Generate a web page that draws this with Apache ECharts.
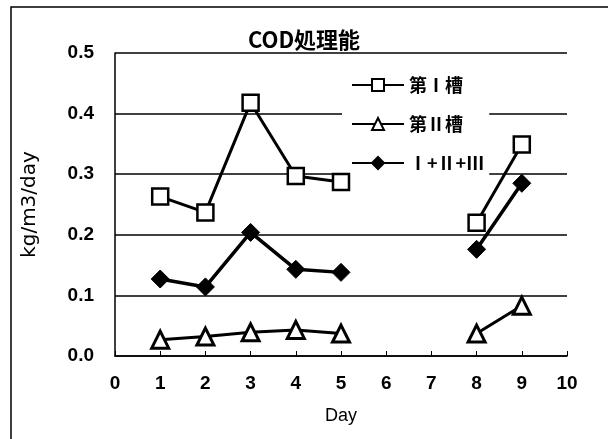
<!DOCTYPE html>
<html>
<head>
<meta charset="utf-8">
<script src="https://cdn.jsdelivr.net/npm/echarts@6/dist/echarts.min.js"></script>
<style>
  html, body { margin: 0; padding: 0; background: #fff; }
  #main { width: 608px; height: 439px; }
</style>
</head>
<body>
<div id="main"></div>
<script>
// 経過日数と各槽のCOD処理能 (6,7日目は欠測)
var days = [1, 2, 3, 4, 5, 6, 7, 8, 9];
var tank1 = [0.263, 0.237, 0.418, 0.297, 0.287, null, null, 0.220, 0.349];
var tank2 = [0.027, 0.032, 0.039, 0.043, 0.037, null, null, 0.037, 0.083];
var tankAll = [0.127, 0.114, 0.204, 0.143, 0.138, null, null, 0.176, 0.285];
var names = ['第Ⅰ槽', '第Ⅱ槽', 'Ⅰ+Ⅱ+Ⅲ'];

var chart = echarts.init(document.getElementById('main'));

function pairs(vals) {
  return days.map(function (d, i) {
    return [d, vals[i] == null ? '-' : vals[i]];
  });
}

var lineStyle = { color: '#000', width: 3 };

var option = {
  backgroundColor: '#fff',
  animation: false,
  title: {
    text: 'COD処理能',
    left: 'center',
    top: 24,
    textStyle: {
      fontFamily: '"Noto Sans CJK JP", sans-serif',
      fontSize: 22,
      fontWeight: 'bold',
      color: '#000'
    }
  },
  graphic: [{
    type: 'rect',
    shape: { x: 11, y: 7, width: 640, height: 480 },
    style: { fill: 'none', stroke: '#000', lineWidth: 1.5 },
    silent: true
  }],
  legend: {
    orient: 'vertical',
    left: 342,
    top: 68,
    padding: [8, 5, 30, 9],
    itemWidth: 52,
    itemHeight: 15,
    itemGap: 21,
    backgroundColor: '#fff',
    textStyle: {
      fontFamily: '"Noto Sans CJK JP", serif',
      fontSize: 18,
      fontWeight: 'bold',
      color: '#000'
    },
    data: names
  },
  grid: { left: 115, right: 41, top: 53, bottom: 83 },
  xAxis: {
    type: 'value',
    min: 0,
    max: 10,
    interval: 1,
    name: 'Day',
    nameLocation: 'middle',
    nameGap: 51,
    nameTextStyle: { fontFamily: '"Liberation Sans", Arial', fontSize: 18, color: '#000' },
    axisLine: { lineStyle: { color: '#000', width: 1.5 } },
    axisTick: { show: true, inside: true, length: 5, lineStyle: { color: '#000' } },
    splitLine: { show: false },
    axisLabel: {
      margin: 18,
      fontFamily: '"Liberation Sans", Arial',
      fontSize: 19,
      fontWeight: 'bold',
      color: '#000'
    }
  },
  yAxis: {
    type: 'value',
    min: 0,
    max: 0.5,
    interval: 0.1,
    name: 'kg/m3/day',
    nameLocation: 'middle',
    nameGap: 75,
    nameRotate: 90,
    nameTextStyle: { fontFamily: '"DejaVu Sans"', fontSize: 20, color: '#000' },
    axisLine: { show: true, lineStyle: { color: '#000', width: 1.5 } },
    axisTick: { show: false },
    splitLine: { show: true, lineStyle: { color: '#000', width: 1.5 } },
    axisLabel: {
      margin: 21,
      fontFamily: '"Liberation Sans", Arial',
      fontSize: 19,
      fontWeight: 'bold',
      color: '#000',
      formatter: function (v) { return v.toFixed(1); }
    }
  },
  series: [
    {
      name: names[0],
      type: 'line',
      z: 10,
      data: pairs(tank1),
      connectNulls: false,
      symbol: 'rect',
      symbolSize: 16,
      lineStyle: lineStyle,
      itemStyle: { color: '#fff', borderColor: '#000', borderWidth: 2.5 }
    },
    {
      name: names[1],
      type: 'line',
      z: 10,
      data: pairs(tank2),
      connectNulls: false,
      symbol: 'triangle',
      symbolSize: 17,
      lineStyle: lineStyle,
      itemStyle: { color: '#fff', borderColor: '#000', borderWidth: 3 }
    },
    {
      name: names[2],
      type: 'line',
      z: 10,
      data: pairs(tankAll),
      connectNulls: false,
      symbol: 'diamond',
      symbolSize: 18,
      lineStyle: { color: '#000', width: 3.5 },
      itemStyle: { color: '#000', borderColor: '#000', borderWidth: 1 }
    }
  ]
};

chart.setOption(option);
</script>
</body>
</html>
